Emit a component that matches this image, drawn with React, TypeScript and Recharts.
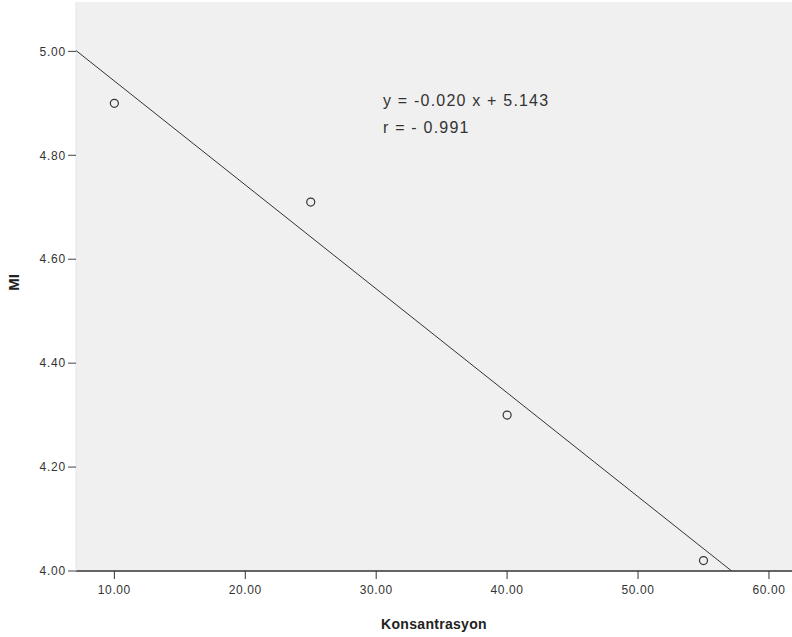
import React from 'react';
import {
  ScatterChart, Scatter, XAxis, YAxis, CartesianGrid, Label,
} from 'recharts';

// observed points (Konsantrasyon vs MI)
const concentration = [10, 25, 40, 55];
const miValues = [4.9, 4.71, 4.3, 4.02];

const xTicks = [10, 20, 30, 40, 50, 60];
const yTicks = [4.0, 4.2, 4.4, 4.6, 4.8, 5.0];

const xDomain: [number, number] = [7.07, 61.76];
const yDomain: [number, number] = [4.0, 5.095];

// linear fit as printed on the chart
const slope = -0.02;
const intercept = 5.143;
const equationText = 'y = -0.020 x + 5.143';
const rText = 'r = - 0.991';

const points = concentration.map((x, i) => ({ x, y: miValues[i] }));

// fit line clipped to the plotted y range
const fitLine = [
  { x: xDomain[0], y: intercept + slope * xDomain[0] },
  { x: (yDomain[0] - intercept) / slope, y: yDomain[0] },
];

const font = '"Liberation Sans", Arial, sans-serif';

const Ring = (props: any) => (
  <circle cx={props.cx} cy={props.cy} r={4} fill="none" stroke="#333" strokeWidth={1.2} />
);

export default function App() {
  return (
    <div style={{ position: 'absolute', left: 0, top: 0, width: 792, height: 637, fontFamily: font }}>
      <ScatterChart width={792} height={637} margin={{ top: 2, right: 0, left: 0, bottom: 0 }}>
        <CartesianGrid fill="#f0f0f0" stroke="none" horizontal={false} vertical={false} />
        <XAxis
          type="number"
          dataKey="x"
          domain={xDomain}
          ticks={xTicks}
          allowDataOverflow
          height={66}
          tickFormatter={(v) => v.toFixed(2)}
          tick={{ fill: '#333', fontSize: 12, fontFamily: font, letterSpacing: 0.6, dy: 4 }}
          axisLine={{ stroke: '#333', strokeWidth: 1.5 }}
          tickLine={{ stroke: '#333' }}
          tickSize={8}
        >
          <Label
            value="Konsantrasyon"
            position="insideBottom"
            offset={8}
            style={{ fill: '#222', fontSize: 14, fontWeight: 'bold', fontFamily: font, letterSpacing: 0.3 }}
          />
        </XAxis>
        <YAxis
          type="number"
          dataKey="y"
          domain={yDomain}
          ticks={yTicks}
          allowDataOverflow
          width={76}
          tickFormatter={(v) => v.toFixed(2)}
          tick={{ fill: '#333', fontSize: 12, fontFamily: font, letterSpacing: 0.8 }}
          axisLine={{ stroke: '#e4e4e4' }}
          tickLine={{ stroke: '#444' }}
          tickSize={8}
        >
          <Label
            value="MI"
            angle={-90}
            position="insideLeft"
            offset={14}
            dy={-4}
            style={{ fill: '#222', fontSize: 15, fontWeight: 'bold', fontFamily: font, textAnchor: 'middle' }}
          />
        </YAxis>
        <Scatter
          data={fitLine}
          line={{ stroke: '#333', strokeWidth: 1 }}
          shape={() => <g />}
          isAnimationActive={false}
        />
        <Scatter data={points} shape={Ring} isAnimationActive={false} />
      </ScatterChart>
      <div style={{ position: 'absolute', left: 383, top: 87, fontSize: 16, letterSpacing: 1.2, color: '#333', lineHeight: '27px' }}>
        <div>{equationText}</div>
        <div>{rText}</div>
      </div>
    </div>
  );
}
